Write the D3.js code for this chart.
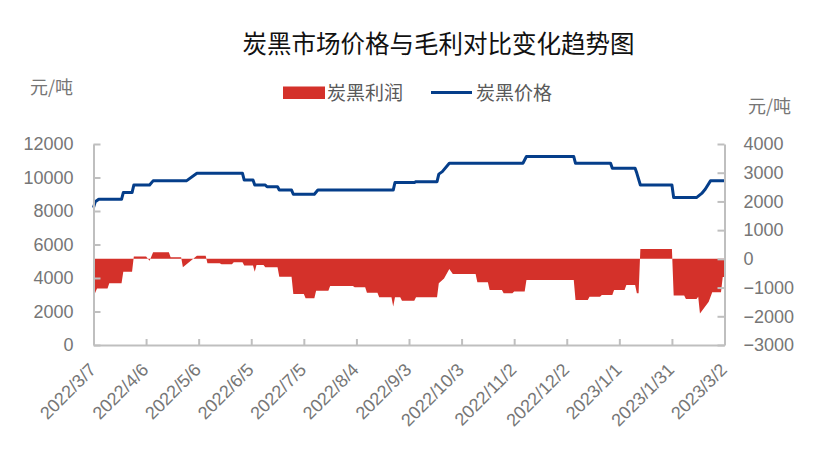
<!DOCTYPE html>
<html><head><meta charset="utf-8">
<script src="https://cdn.jsdelivr.net/npm/d3@7/dist/d3.min.js"></script>
<style>
html,body{margin:0;padding:0;background:#fff;}
svg{display:block;font-family:"Noto Sans","Noto Sans CJK SC",sans-serif;}
</style></head>
<body><svg id="chart" width="815" height="461"></svg>
<script>
const titleText = "炭黑市场价格与毛利对比变化趋势图";
const seriesNames = ["炭黑利润", "炭黑价格"];
const unitLabel = "元/吨";
const xTickLabels = ["2022/3/7","2022/4/6","2022/5/6","2022/6/5","2022/7/5","2022/8/4","2022/9/3","2022/10/3","2022/11/2","2022/12/2","2023/1/1","2023/1/31","2023/3/2"];
const leftTicks = [0,2000,4000,6000,8000,10000,12000];
const rightTicks = [-3000,-2000,-1000,0,1000,2000,3000,4000];

const priceDates = ["2022-03-07","2022-03-08","2022-03-10","2022-03-23","2022-03-24","2022-03-29","2022-03-30","2022-04-08","2022-04-10","2022-04-29","2022-05-05","2022-05-31","2022-06-01","2022-06-06","2022-06-07","2022-06-13","2022-06-14","2022-06-20","2022-06-21","2022-06-28","2022-06-29","2022-07-11","2022-07-13","2022-08-25","2022-08-26","2022-09-06","2022-09-07","2022-09-19","2022-09-20","2022-09-22","2022-09-26","2022-11-07","2022-11-09","2022-12-06","2022-12-07","2022-12-27","2022-12-28","2023-01-10","2023-01-11","2023-01-13","2023-01-31","2023-02-01","2023-02-14","2023-02-17","2023-02-19","2023-02-22","2023-03-02"];
const priceValues = [8200,8550,8700,8700,9100,9100,9550,9550,9800,9800,10250,10250,9850,9850,9550,9550,9450,9450,9250,9250,9000,9000,9250,9250,9700,9700,9750,9750,10200,10350,10850,10850,11250,11250,10850,10850,10550,10550,10250,9550,9550,8800,8800,9050,9300,9800,9800];

const profitDates = ["2022-03-07","2022-03-09","2022-03-15","2022-03-16","2022-03-23","2022-03-24","2022-03-29","2022-03-30","2022-04-06","2022-04-08","2022-04-10","2022-04-19","2022-04-20","2022-04-26","2022-04-27","2022-05-05","2022-05-10","2022-05-11","2022-05-18","2022-05-19","2022-05-25","2022-05-26","2022-05-31","2022-06-01","2022-06-06","2022-06-07","2022-06-08","2022-06-12","2022-06-13","2022-06-20","2022-06-21","2022-06-28","2022-06-29","2022-07-05","2022-07-06","2022-07-11","2022-07-12","2022-07-19","2022-07-20","2022-08-02","2022-08-03","2022-08-09","2022-08-10","2022-08-16","2022-08-17","2022-08-24","2022-08-25","2022-08-26","2022-08-29","2022-08-30","2022-09-06","2022-09-07","2022-09-19","2022-09-20","2022-09-23","2022-09-26","2022-09-28","2022-10-11","2022-10-12","2022-10-18","2022-10-19","2022-10-26","2022-10-27","2022-11-01","2022-11-02","2022-11-08","2022-11-09","2022-12-06","2022-12-07","2022-12-14","2022-12-15","2022-12-21","2022-12-22","2022-12-28","2022-12-29","2023-01-04","2023-01-05","2023-01-10","2023-01-11","2023-01-12","2023-01-13","2023-01-31","2023-02-01","2023-02-07","2023-02-08","2023-02-14","2023-02-15","2023-02-16","2023-02-21","2023-02-23","2023-02-28","2023-03-01","2023-03-02"];
const profitValues = [-1320,-1030,-1030,-850,-850,-445,-445,80,80,-70,230,230,55,55,-290,110,110,-155,-155,-190,-190,-120,-120,-235,-235,-445,-210,-210,-290,-290,-620,-620,-1220,-1220,-1370,-1370,-1110,-1110,-945,-945,-990,-990,-1180,-1180,-1340,-1340,-1660,-1340,-1340,-1460,-1460,-1340,-1340,-850,-680,-350,-525,-525,-815,-815,-1085,-1085,-1200,-1200,-1140,-1140,-735,-735,-1430,-1430,-1320,-1320,-1260,-1260,-1085,-1085,-910,-910,-1200,-1200,345,345,-1280,-1280,-1400,-1400,-1320,-1900,-1490,-1165,-1165,-630,-630];

const parseDay = d3.utcParse("%Y-%m-%d");
const parseTick = d3.utcParse("%Y/%m/%d");
const priceData = priceDates.map((d,i)=>({date:parseDay(d), v:priceValues[i]}));
const profitData = profitDates.map((d,i)=>({date:parseDay(d), v:profitValues[i]}));
const tickDates = xTickLabels.map(s=>parseTick(s));

const RED = "#d4312a", BLUE = "#053e8a", AXIS = "#bfbfbf", LABEL = "#767676";
const plotLeft = 93.5, plotRight = 724.5, plotTop = 144, plotBottom = 345;

const svg = d3.select("#chart");
const x = d3.scaleUtc().domain([tickDates[0], tickDates[tickDates.length-1]]).range([plotLeft, plotRight]);
const yL = d3.scaleLinear().domain([0,12000]).range([plotBottom, plotTop]);
const yR = d3.scaleLinear().domain([-3000,4000]).range([plotBottom, plotTop]);

// title
svg.append("text").attr("x",438.5).attr("y",53).attr("text-anchor","middle")
  .attr("font-size","24.5px").attr("fill","#111").attr("font-family","Noto Sans CJK SC").text(titleText);

// legend
const lg = svg.append("g").attr("font-family","Noto Sans CJK SC").attr("font-size","19px").attr("fill","#595959");
lg.append("rect").attr("x",283).attr("y",86.5).attr("width",42).attr("height",12.5).attr("fill",RED);
lg.append("text").attr("x",327).attr("y",99.5).text(seriesNames[0]);
lg.append("line").attr("x1",431).attr("x2",472).attr("y1",92.5).attr("y2",92.5).attr("stroke",BLUE).attr("stroke-width",3);
lg.append("text").attr("x",476).attr("y",99.5).text(seriesNames[1]);

// unit labels
svg.append("text").attr("x",30).attr("y",94).attr("font-family","Noto Sans CJK SC").attr("font-size","18px").attr("fill",LABEL).text(unitLabel);
svg.append("text").attr("x",748).attr("y",113).attr("font-family","Noto Sans CJK SC").attr("font-size","18px").attr("fill",LABEL).text(unitLabel);

// profit area
const area = d3.area().x(d=>x(d.date)).y0(yR(0)).y1(d=>yR(d.v));
svg.append("path").datum(profitData).attr("d",area).attr("fill",RED);

// price line
const line = d3.line().x(d=>x(d.date)).y(d=>yL(d.v));
svg.append("path").datum(priceData).attr("d",line).attr("fill","none").attr("stroke",BLUE).attr("stroke-width",3).attr("stroke-linejoin","round");

function styleAxis(g){
  g.select(".domain").attr("stroke",AXIS).attr("stroke-width",2);
  g.selectAll(".tick line").attr("stroke",AXIS).attr("stroke-width",2);
  g.selectAll(".tick text").attr("fill",LABEL).attr("font-size","18px");
}

svg.append("g").attr("transform",`translate(${plotLeft},0)`)
  .call(d3.axisLeft(yL).tickValues(leftTicks).tickSizeInner(-7).tickSizeOuter(0).tickPadding(20).tickFormat(d3.format("d")))
  .call(styleAxis);

svg.append("g").attr("transform",`translate(${plotRight},0)`)
  .call(d3.axisRight(yR).tickValues(rightTicks).tickSizeInner(-7).tickSizeOuter(0).tickPadding(19).tickFormat(d3.format("d")))
  .call(styleAxis);

const xa = svg.append("g").attr("transform",`translate(0,${plotBottom})`)
  .call(d3.axisBottom(x).tickValues(tickDates).tickSizeInner(-6).tickSizeOuter(0).tickFormat((d,i)=>xTickLabels[i]))
  .call(styleAxis);
xa.selectAll(".tick text").attr("text-anchor","end").attr("dy",null).attr("y",0).attr("x",0)
  .attr("transform","translate(3,26) rotate(-45)");
</script></body></html>
